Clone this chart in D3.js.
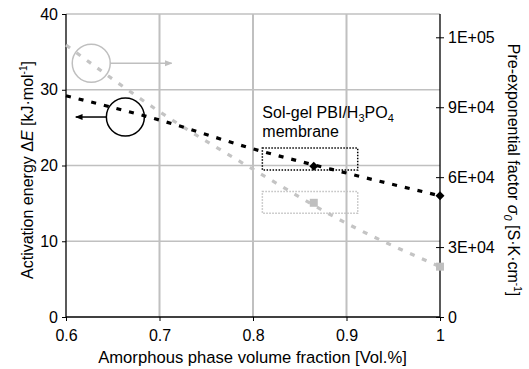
<!DOCTYPE html>
<html lang="en">
<head>
<meta charset="UTF-8">
<title>Activation energy vs amorphous fraction</title>
<script src="https://d3js.org/d3.v7.min.js"></script>
<style>
  body { margin: 0; background: #fff; }
  text { font-family: "Liberation Sans", Arial, sans-serif; fill: #000; }
</style>
</head>
<body>
<div id="chart"></div>
<script>
// fitted trend lines
let fitX = [0.6, 0.7, 0.8, 0.9, 1.0];
let fitEnergy = [29.2, 26.0, 22.2, 19.0, 16.0];
let fitSigma = [116700, 88100, 63400, 40200, 21600];
// measured points
let pointX = [0.865, 1.0];
let pointEnergy = [19.9, 16.0];
let pointSigma = [49000, 21600];
// ticks
let xTicks = [0.6, 0.7, 0.8, 0.9, 1.0];
let yTicks = [0, 10, 20, 30, 40];
let y2Ticks = [0, 30000, 60000, 90000, 120000];
let y2Labels = ["0", "3E+04", "6E+04", "9E+04", "1E+05"];
// dotted boxes around the sol-gel membrane points [x0, x1, y0, y1]
let boxEnergy = [0.81, 0.912, 19.4, 22.3];
let boxSigma = [0.81, 0.912, 44500, 53800];

let W = 529, H = 369;
let svg = d3.select("#chart").append("svg")
    .attr("width", W).attr("height", H);

let x = d3.scaleLinear().domain([0.6, 1.0]).range([66, 440]);
let y = d3.scaleLinear().domain([0, 40]).range([317, 14]);
let y2 = d3.scaleLinear().domain([0, 130000]).range([317, 14]);

// grid
svg.append("g").selectAll("line").data([10, 20, 30, 40]).enter().append("line")
    .attr("x1", x(0.6)).attr("x2", x(1.0))
    .attr("y1", d => y(d)).attr("y2", d => y(d))
    .attr("stroke", "#c0c0c0").attr("stroke-width", 1.5);
svg.append("g").selectAll("line").data([0.7, 0.8, 0.9]).enter().append("line")
    .attr("x1", d => x(d)).attr("x2", d => x(d))
    .attr("y1", y(0)).attr("y2", y(40))
    .attr("stroke", "#c0c0c0").attr("stroke-width", 2);

// axes
let fs = 16;
let xAxis = d3.axisBottom(x).tickValues(xTicks).tickSize(4).tickFormat(d => d3.format("")(d));
let gx = svg.append("g").attr("transform", "translate(0," + y(0) + ")").call(xAxis);
let yAxis = d3.axisLeft(y).tickValues(yTicks).tickSize(4);
let gy = svg.append("g").attr("transform", "translate(" + x(0.6) + ",0)").call(yAxis);
let y2Axis = d3.axisRight(y2).tickValues(y2Ticks).tickSize(4).tickFormat((d, i) => y2Labels[i]);
let gy2 = svg.append("g").attr("transform", "translate(" + x(1.0) + ",0)").call(y2Axis);
gy2.selectAll(".tick line").attr("x1", -4);

[gx, gy, gy2].forEach(function (g) {
    g.select(".domain").attr("stroke", "#000").attr("stroke-width", 1.3);
    g.selectAll(".tick line").attr("stroke", "#000");
    g.selectAll(".tick text").attr("font-size", fs)
        .attr("font-family", "Liberation Sans, Arial, sans-serif").attr("fill", "#000");
});
gx.select(".domain").attr("d", "M" + x(0.6) + ",0H" + x(1.0));
gy.select(".domain").attr("d", "M0," + y(0) + "V" + y(40));
gy2.select(".domain").attr("d", "M0," + y(0) + "V" + y(40));
gx.selectAll(".tick text").attr("dy", "1.05em");
gy.selectAll(".tick text").attr("x", -8);
gy2.selectAll(".tick text").attr("x", 8);

// fitted lines
let lineE = d3.line().x((d, i) => x(fitX[i])).y(d => y(d)).curve(d3.curveMonotoneX);
let lineS = d3.line().x((d, i) => x(fitX[i])).y(d => y2(d)).curve(d3.curveMonotoneX);
svg.append("path").datum(fitSigma)
    .attr("d", lineS).attr("fill", "none")
    .attr("stroke", "#c4c4c4").attr("stroke-width", 3.2).attr("stroke-dasharray", "5,8");
svg.append("path").datum(fitEnergy)
    .attr("d", lineE).attr("fill", "none")
    .attr("stroke", "#000").attr("stroke-width", 3.2).attr("stroke-dasharray", "5,8");

// dotted boxes
svg.append("rect")
    .attr("x", x(boxSigma[0])).attr("y", y2(boxSigma[3]))
    .attr("width", x(boxSigma[1]) - x(boxSigma[0]))
    .attr("height", y2(boxSigma[2]) - y2(boxSigma[3]))
    .attr("fill", "none").attr("stroke", "#bfbfbf").attr("stroke-width", 1.5)
    .attr("stroke-dasharray", "1.5,1.5");
svg.append("rect")
    .attr("x", x(boxEnergy[0])).attr("y", y(boxEnergy[3]))
    .attr("width", x(boxEnergy[1]) - x(boxEnergy[0]))
    .attr("height", y(boxEnergy[2]) - y(boxEnergy[3]))
    .attr("fill", "none").attr("stroke", "#000").attr("stroke-width", 1.5)
    .attr("stroke-dasharray", "1.5,1.5");

// markers
svg.append("g").selectAll("rect").data(pointSigma).enter().append("rect")
    .attr("x", (d, i) => x(pointX[i]) - 4).attr("y", d => y2(d) - 4)
    .attr("width", 8).attr("height", 8).attr("fill", "#bfbfbf");
svg.append("g").selectAll("path").data(pointEnergy).enter().append("path")
    .attr("d", d3.symbol(d3.symbolSquare, 40))
    .attr("transform", (d, i) => "translate(" + x(pointX[i]) + "," + y(d) + ") rotate(45)")
    .attr("fill", "#000");

// circle + arrow annotations
let defs = svg.append("defs");
[["arrB", "#000"], ["arrG", "#bfbfbf"]].forEach(function (m) {
    defs.append("marker").attr("id", m[0]).attr("viewBox", "0 0 10 10")
        .attr("refX", 9).attr("refY", 5).attr("markerWidth", 5).attr("markerHeight", 5)
        .attr("orient", "auto")
        .append("path").attr("d", "M0,1L10,5L0,9z").attr("fill", m[1]);
});
svg.append("circle").attr("cx", x(0.627)).attr("cy", y(33.5)).attr("r", 19)
    .attr("fill", "none").attr("stroke", "#bfbfbf").attr("stroke-width", 1.5);
svg.append("line").attr("x1", x(0.627) + 19).attr("x2", x(0.713))
    .attr("y1", y(33.5)).attr("y2", y(33.5))
    .attr("stroke", "#bfbfbf").attr("stroke-width", 1.5).attr("marker-end", "url(#arrG)");
svg.append("circle").attr("cx", x(0.6635)).attr("cy", y(26.4)).attr("r", 19)
    .attr("fill", "none").attr("stroke", "#000").attr("stroke-width", 1.5);
svg.append("line").attr("x1", x(0.6635) - 19).attr("x2", x(0.6105))
    .attr("y1", y(26.4)).attr("y2", y(26.4))
    .attr("stroke", "#000").attr("stroke-width", 1.5).attr("marker-end", "url(#arrB)");

// membrane label
let lab = svg.append("text").attr("x", x(0.81)).attr("y", 118).attr("font-size", fs);
lab.append("tspan").text("Sol-gel PBI/H");
lab.append("tspan").text("3").attr("font-size", 11).attr("dy", 4);
lab.append("tspan").text("PO").attr("dy", -4);
lab.append("tspan").text("4").attr("font-size", 11).attr("dy", 4);
svg.append("text").attr("x", x(0.81)).attr("y", 137).attr("font-size", fs).text("membrane");

// shrink / grow a title so it spans the same length as in the picture
function fitLength(t, target) {
    let len = t.node().getComputedTextLength();
    let k = target / len;
    t.attr("font-size", fs * k);
    t.selectAll("tspan").each(function () {
        let s = d3.select(this);
        if (s.attr("font-size")) s.attr("font-size", +s.attr("font-size") * k);
        if (s.attr("dy")) s.attr("dy", +s.attr("dy") * k);
    });
}

// axis titles
let xt = svg.append("text").attr("x", 252.5).attr("y", 363)
    .attr("text-anchor", "middle").attr("font-size", fs)
    .text("Amorphous phase volume fraction [Vol.%]");
fitLength(xt, 309);

let lt = svg.append("text").attr("transform", "translate(33,170) rotate(-90)")
    .attr("text-anchor", "middle").attr("font-size", fs);
lt.append("tspan").text("Activation energy \u0394");
lt.append("tspan").text("E").attr("font-style", "italic");
lt.append("tspan").text(" [kJ\u00b7mol");
lt.append("tspan").text("-1").attr("font-size", 10).attr("dy", -6);
lt.append("tspan").text("]").attr("dy", 6);

let rt = svg.append("text").attr("transform", "translate(508,170) rotate(90)")
    .attr("text-anchor", "middle").attr("font-size", fs);
rt.append("tspan").text("Pre-exponential factor ");
rt.append("tspan").text("\u03c3").attr("font-style", "italic");
rt.append("tspan").text("0").attr("font-style", "italic").attr("font-size", 11).attr("dy", 4);
rt.append("tspan").text(" [S\u00b7K\u00b7cm").attr("dy", -4);
rt.append("tspan").text("-1").attr("font-size", 10).attr("dy", -6);
rt.append("tspan").text("]").attr("dy", 6);
</script>
</body>
</html>
